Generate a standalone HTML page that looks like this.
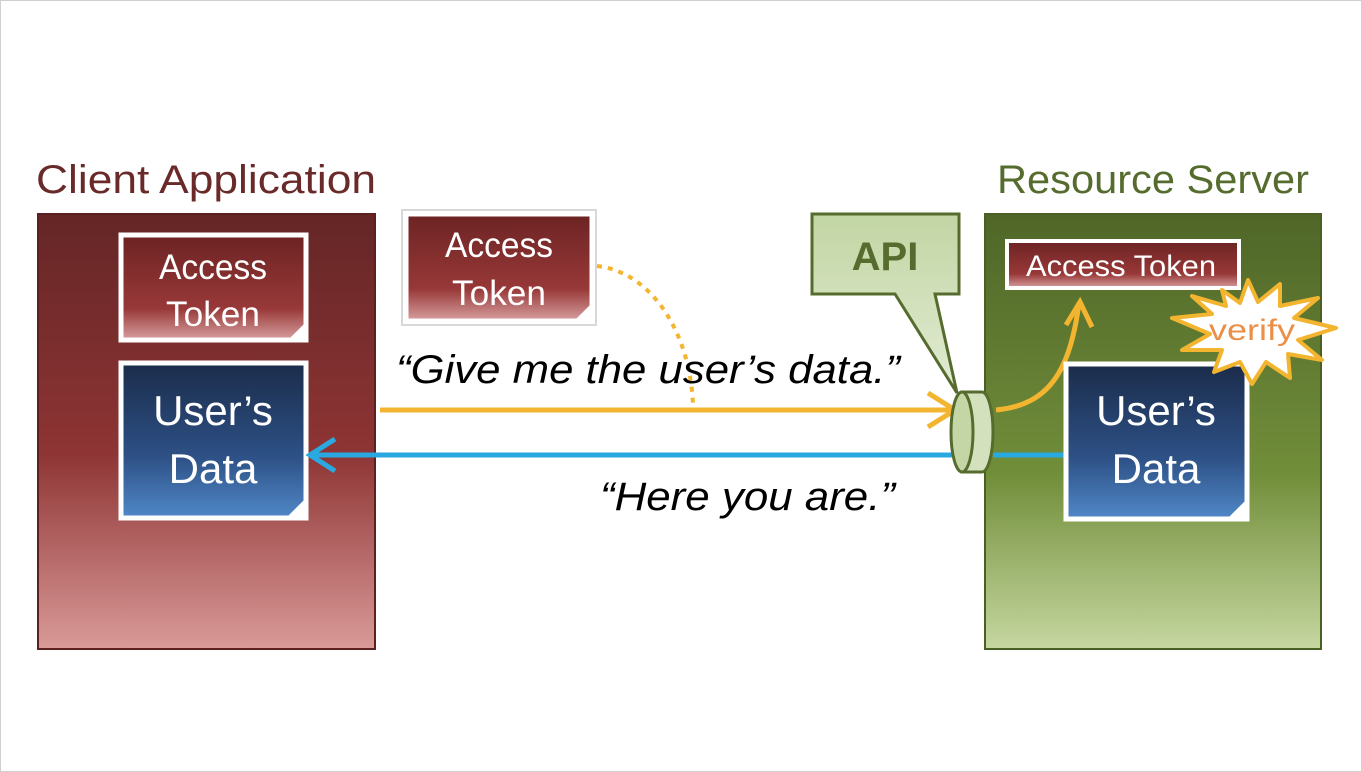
<!DOCTYPE html>
<html><head><meta charset="utf-8"><style>
html,body{margin:0;padding:0;background:#fff}
svg{display:block}
text{font-family:"Liberation Sans","DejaVu Sans",sans-serif}
</style></head><body>
<svg width="1362" height="772" viewBox="0 0 1362 772" xmlns="http://www.w3.org/2000/svg">
<defs>
<linearGradient id="cg" x1="0" y1="0" x2="0" y2="1">
<stop offset="0" stop-color="#652626"/><stop offset="0.55" stop-color="#8e3434"/><stop offset="1" stop-color="#d99a98"/></linearGradient>
<linearGradient id="sg" x1="0" y1="0" x2="0" y2="1">
<stop offset="0" stop-color="#4f6628"/><stop offset="0.6" stop-color="#718e3a"/><stop offset="1" stop-color="#c6d7a0"/></linearGradient>
<linearGradient id="tg" x1="0" y1="0" x2="0" y2="1">
<stop offset="0" stop-color="#6c2323"/><stop offset="0.7" stop-color="#983838"/><stop offset="1" stop-color="#d8a0a0"/></linearGradient>
<linearGradient id="bg" x1="0" y1="0" x2="0" y2="1">
<stop offset="0" stop-color="#1b2c4a"/><stop offset="0.6" stop-color="#2d5085"/><stop offset="1" stop-color="#5088c8"/></linearGradient>
<linearGradient id="ag" x1="0" y1="0" x2="0" y2="1">
<stop offset="0" stop-color="#c2d5a3"/><stop offset="1" stop-color="#e3ecd4"/></linearGradient>
</defs>
<rect x="0.5" y="0.5" width="1361" height="771" fill="#fff" stroke="#d0d0d0"/>

<text x="36" y="193" font-size="40" fill="#6b2a2a" textLength="340" lengthAdjust="spacingAndGlyphs">Client Application</text>
<text x="997" y="193" font-size="40" fill="#566c2e" textLength="312" lengthAdjust="spacingAndGlyphs">Resource Server</text>

<rect x="38" y="214" width="337" height="435" fill="url(#cg)" stroke="#5c2020" stroke-width="2"/>
<rect x="985" y="214" width="336" height="435" fill="url(#sg)" stroke="#4a5f24" stroke-width="2"/>

<!-- client token -->
<rect x="121" y="235" width="185" height="105" fill="url(#tg)" stroke="#fff" stroke-width="5"/>
<path d="M306 322 L288 340 L306 340 Z" fill="#fff"/>
<text x="213" y="279" font-size="35" fill="#fff" text-anchor="middle" textLength="108" lengthAdjust="spacingAndGlyphs">Access</text>
<text x="213" y="326" font-size="35" fill="#fff" text-anchor="middle" textLength="94" lengthAdjust="spacingAndGlyphs">Token</text>
<!-- client data -->
<rect x="121" y="363" width="185" height="155" fill="url(#bg)" stroke="#fff" stroke-width="5"/>
<path d="M306 498 L286 518 L306 518 Z" fill="#fff"/>
<text x="213" y="425" font-size="42" fill="#fff" text-anchor="middle">User’s</text>
<text x="213" y="483" font-size="42" fill="#fff" text-anchor="middle">Data</text>

<!-- floating token -->
<rect x="402" y="210" width="194" height="115" fill="none" stroke="#d8d8d8" stroke-width="2"/>
<rect x="406" y="214" width="186" height="107" fill="url(#tg)" stroke="#fff" stroke-width="5"/>
<path d="M592 303 L574 321 L592 321 Z" fill="#fff"/>
<text x="499" y="257" font-size="35" fill="#fff" text-anchor="middle" textLength="108" lengthAdjust="spacingAndGlyphs">Access</text>
<text x="499" y="305" font-size="35" fill="#fff" text-anchor="middle" textLength="94" lengthAdjust="spacingAndGlyphs">Token</text>

<!-- dotted curve -->
<path d="M597 266 C650 272 690 330 693 405" fill="none" stroke="#f3b530" stroke-width="4" stroke-dasharray="5 6"/>

<!-- texts -->
<text x="396" y="383" font-size="40" font-style="italic" fill="#000" textLength="504" lengthAdjust="spacingAndGlyphs">“Give me the user’s data.”</text>
<text x="600" y="510" font-size="40" font-style="italic" fill="#000" textLength="295" lengthAdjust="spacingAndGlyphs">“Here you are.”</text>

<!-- arrows -->
<line x1="380" y1="410" x2="955" y2="410" stroke="#f3b530" stroke-width="5"/>
<path d="M928 393 L955 410 L928 427" fill="none" stroke="#f3b530" stroke-width="5"/>
<line x1="312" y1="455" x2="962" y2="455" stroke="#2aa8e0" stroke-width="5"/>
<path d="M335 439 L310 455 L335 471" fill="none" stroke="#2aa8e0" stroke-width="5"/>
<line x1="993" y1="455" x2="1068" y2="455" stroke="#2aa8e0" stroke-width="5"/>

<!-- API callout -->
<path d="M812 214 L959 214 L959 294 L935 294 L957 393 L895 294 L812 294 Z" fill="url(#ag)" stroke="#566c2e" stroke-width="3"/>
<text x="885" y="270" font-size="40" font-weight="bold" fill="#566c2e" text-anchor="middle">API</text>

<!-- cylinder -->
<path d="M962 392 L982 392 A11 40 0 0 1 982 472 L962 472 Z" fill="#d3e2bd" stroke="#566c2e" stroke-width="3"/>
<ellipse cx="962" cy="432" rx="11" ry="40" fill="#c4d6a6" stroke="#566c2e" stroke-width="3"/>

<!-- server token -->
<rect x="1007" y="241" width="232" height="47" fill="url(#tg)" stroke="#fff" stroke-width="4"/>
<text x="1121" y="276" font-size="30" fill="#fff" text-anchor="middle" textLength="190" lengthAdjust="spacingAndGlyphs">Access Token</text>

<!-- curved yellow arrow -->
<path d="M996 410 C1050 405 1070 370 1079 303" fill="none" stroke="#f3b530" stroke-width="5"/>
<path d="M1066 325 L1080 302 L1092 327" fill="none" stroke="#f3b530" stroke-width="5"/>

<!-- server data -->
<rect x="1066" y="364" width="181" height="155" fill="url(#bg)" stroke="#fff" stroke-width="5"/>
<path d="M1247 499 L1227 519 L1247 519 Z" fill="#fff"/>
<text x="1156" y="425" font-size="42" fill="#fff" text-anchor="middle">User’s</text>
<text x="1156" y="483" font-size="42" fill="#fff" text-anchor="middle">Data</text>

<!-- verify starburst -->
<polygon points="1222,290 1240,303 1248,280 1258,302 1280,284 1280,306 1318,298 1294,318 1336,328 1298,340 1322,360 1288,354 1290,378 1266,362 1252,384 1240,362 1214,372 1222,350 1182,350 1210,334 1172,318 1212,314 1192,296 1226,306" fill="#fff" stroke="#f3b530" stroke-width="4" stroke-linejoin="round"/>
<text x="1252" y="340" font-size="30" fill="#ea8f48" text-anchor="middle" textLength="86" lengthAdjust="spacingAndGlyphs">verify</text>
</svg>
</body></html>
